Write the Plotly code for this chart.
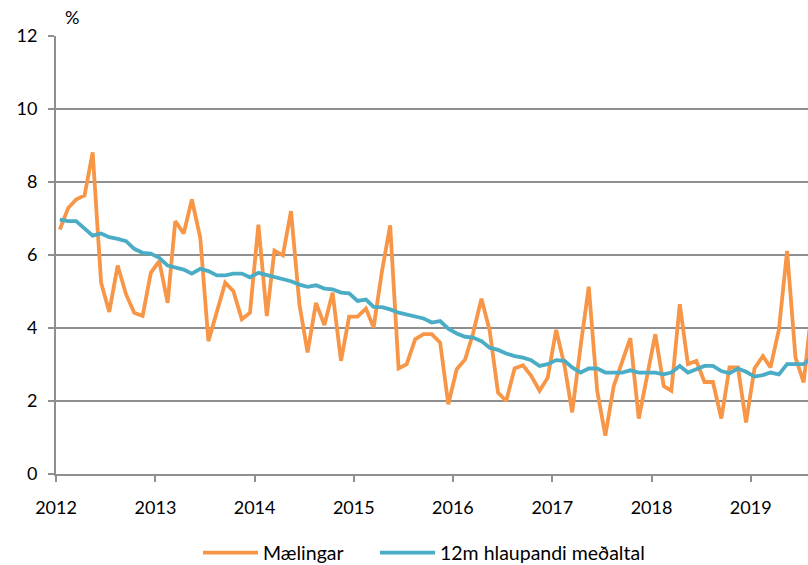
import pandas as pd
import plotly.graph_objects as go

start_month = "2012-01"
maelingar = [
    6.70, 7.29, 7.52, 7.63, 8.81, 5.24, 4.44, 5.71, 4.92, 4.42, 4.33, 5.51,
    5.83, 4.69, 6.93, 6.59, 7.52, 6.47, 3.64, 4.42, 5.24, 5.01, 4.24, 4.42,
    6.83, 4.33, 6.12, 5.99, 7.20, 4.65, 3.33, 4.69, 4.08, 4.97, 3.10, 4.31,
    4.31, 4.53, 4.01, 5.56, 6.81, 2.89, 3.01, 3.69, 3.83, 3.83, 3.60, 1.91,
    2.87, 3.14, 3.85, 4.80, 3.94, 2.23, 2.00, 2.89, 2.98, 2.69, 2.28, 2.64,
    3.95, 2.96, 1.69, 3.51, 5.13, 2.28, 1.05, 2.41, 3.10, 3.72, 1.52, 2.69,
    3.83, 2.41, 2.28, 4.65, 3.01, 3.10, 2.52, 2.52, 1.52, 2.92, 2.92, 1.41,
    2.89, 3.23, 2.92, 3.96, 6.11, 3.19, 2.51, 4.60,
]
medaltal = [
    6.97, 6.93, 6.93, 6.72, 6.53, 6.59, 6.49, 6.44, 6.38, 6.17, 6.06, 6.04,
    5.92, 5.71, 5.67, 5.60, 5.49, 5.62, 5.56, 5.44, 5.44, 5.49, 5.49, 5.39,
    5.51, 5.45, 5.39, 5.33, 5.28, 5.19, 5.13, 5.17, 5.08, 5.06, 4.97, 4.95,
    4.74, 4.78, 4.58, 4.57, 4.51, 4.42, 4.37, 4.33, 4.26, 4.15, 4.19, 3.98,
    3.85, 3.76, 3.74, 3.64, 3.46, 3.40, 3.30, 3.23, 3.19, 3.12, 2.96, 3.01,
    3.12, 3.10, 2.92, 2.78, 2.89, 2.89, 2.78, 2.78, 2.78, 2.84, 2.78, 2.78,
    2.78, 2.73, 2.78, 2.96, 2.78, 2.87, 2.96, 2.96, 2.82, 2.76, 2.89, 2.80,
    2.67, 2.71, 2.78, 2.73, 3.01, 3.01, 3.01, 3.20,
]
year_ticks = ["2012", "2013", "2014", "2015", "2016", "2017", "2018", "2019"]
y_ticks = [0, 2, 4, 6, 8, 10, 12]
series_names = ["Mælingar", "12m hlaupandi meðaltal"]

dates = pd.date_range(start_month, periods=len(maelingar), freq="MS") + pd.Timedelta(days=14)

FONT = "Lato, 'Open Sans', sans-serif"
GRID = "#8f8f8f"
W, H = 808, 565

fig = go.Figure()
fig.add_trace(go.Scatter(x=dates, y=maelingar, mode="lines", name=series_names[0],
                         line=dict(color="#F79646", width=3.8), legend="legend"))
fig.add_trace(go.Scatter(x=dates, y=medaltal, mode="lines", name=series_names[1],
                         line=dict(color="#4BACC6", width=3.8), legend="legend2"))

legend_common = dict(orientation="h", xref="container", yref="container",
                     xanchor="left", yanchor="middle", y=(H - 553) / H,
                     font=dict(size=19.5), itemwidth=55, bgcolor="rgba(0,0,0,0)")

fig.update_layout(
    width=W, height=H,
    margin=dict(l=56, r=0, t=36, b=91),
    plot_bgcolor="white", paper_bgcolor="white",
    font=dict(family=FONT, size=18, color="#000000"),
    showlegend=True,
    legend=dict(x=198 / W, **legend_common),
    legend2=dict(x=375 / W, **legend_common),
    xaxis=dict(
        type="date",
        range=["2012-01-01", "2019-07-31"],
        tickvals=[f"{y}-01-01" for y in year_ticks],
        ticktext=year_ticks,
        showgrid=False,
        showline=True, linecolor=GRID, linewidth=2,
        ticks="outside", ticklen=6, tickcolor=GRID, tickwidth=2,
        ticklabelstandoff=10,
        zeroline=False,
    ),
    yaxis=dict(
        range=[0, 12],
        tickvals=y_ticks,
        showgrid=True, gridcolor=GRID, gridwidth=2,
        showline=True, linecolor=GRID, linewidth=2,
        ticks="outside", ticklen=6, tickcolor=GRID, tickwidth=2,
        ticklabelstandoff=7,
        zeroline=False,
    ),
    annotations=[dict(text="%", xref="paper", yref="paper",
                      x=(72 - 56) / 752, y=1 + (36 - 17) / 438,
                      showarrow=False, xanchor="center", yanchor="middle",
                      font=dict(size=18))],
)

fig.write_html("out.html", config={"displayModeBar": False},
               post_script="document.body.style.margin='0';")
